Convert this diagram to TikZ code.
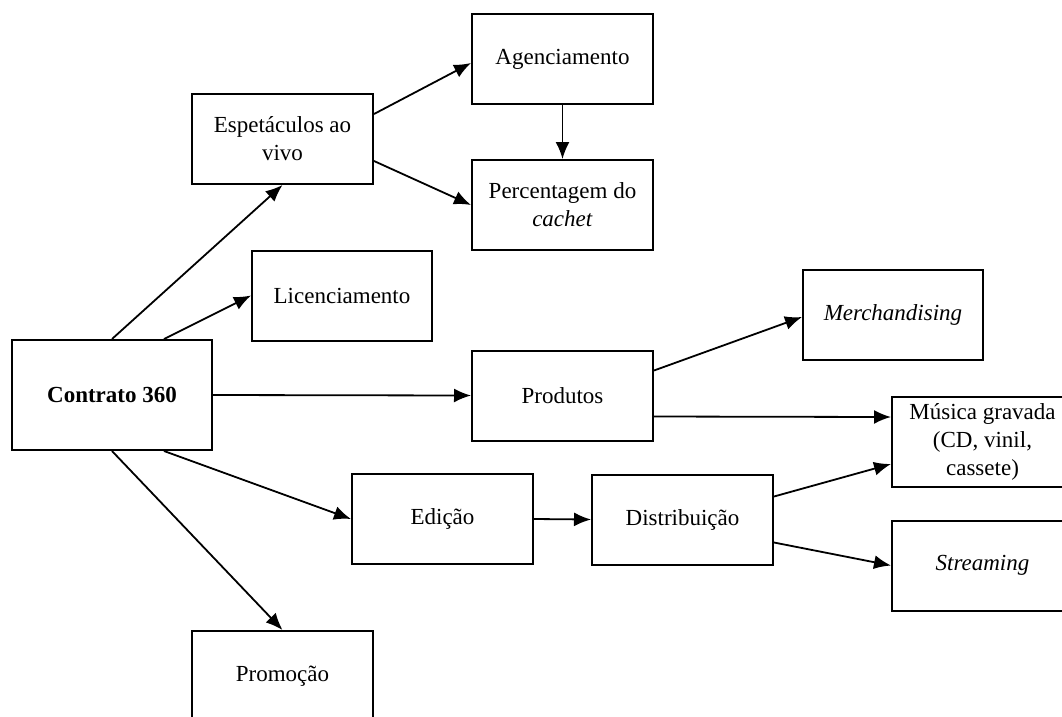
\documentclass[tikz,border=0pt]{standalone}
\usepackage{fontspec}
\setmainfont{Liberation Serif}
\usetikzlibrary{arrows.meta}
\begin{document}
\begin{tikzpicture}[x=1pt,y=-1pt,
  box/.style={draw=black, line width=2pt, rectangle, minimum width=181pt,
    minimum height=90pt, align=center, inner sep=2pt, text=black,
    font=\fontsize{23}{28}\selectfont},
  conn/.style={line width=1.8pt, -{Latex[length=17pt,width=14pt]}}]
  \useasboundingbox (0,0) rectangle (1062,716);
  \clip (0,0) rectangle (1062,716);

  % boxes
  \node[box, minimum width=200pt, minimum height=110pt, font=\fontsize{23}{28}\selectfont\bfseries] (contrato) at (112,395) {Contrato 360};
  \node[box] (esp) at (282.5,139) {Espetáculos ao\\vivo};
  \node[box] (agen) at (562.5,59) {Agenciamento};
  \node[box] (perc) at (562.5,205) {Percentagem do\\\textit{cachet}};
  \node[box, minimum width=180pt] (lic) at (342,295.5) {Licenciamento};
  \node[box] (prod) at (562.5,395.5) {Produtos};
  \node[box, minimum width=180pt] (merch) at (893,315) {\textit{Merchandising}};
  \node[box] (musica) at (982.5,442) {Música gravada\\(CD, vinil,\\cassete)};
  \node[box] (stream) at (982.5,565.5) {\textit{Streaming}};
  \node[box] (edicao) at (442.5,519) {Edição};
  \node[box] (dist) at (682.5,519.5) {Distribuição};
  \node[box] (promo) at (282.5,676) {Promoção};

  % connectors
  \draw[conn] ([xshift=101pt]contrato.north west) -- (esp.south);
  \draw[conn] ([xshift=153pt]contrato.north west) -- (lic.west);
  \draw[conn] (contrato.east) -- (prod.west);
  \draw[conn] ([xshift=153pt]contrato.south west) -- (edicao.west);
  \draw[conn] ([xshift=101pt]contrato.south west) -- (promo.north);
  \draw[conn] ([yshift=-21pt]esp.north east) -- ([yshift=-50pt]agen.north west);
  \draw[conn] ([yshift=-68pt]esp.north east) -- (perc.west);
  \draw[conn] (agen.south) -- (perc.north);
  \draw[conn] ([yshift=-21pt]prod.north east) -- ([yshift=-48pt]merch.north west);
  \draw[conn] ([yshift=-67pt]prod.north east) -- ([yshift=-21pt]musica.north west);
  \draw[conn] (edicao.east) -- (dist.west);
  \draw[conn] ([yshift=-23pt]dist.north east) -- ([yshift=-68pt]musica.north west);
  \draw[conn] ([yshift=-69pt]dist.north east) -- (stream.west);
\end{tikzpicture}
\end{document}
